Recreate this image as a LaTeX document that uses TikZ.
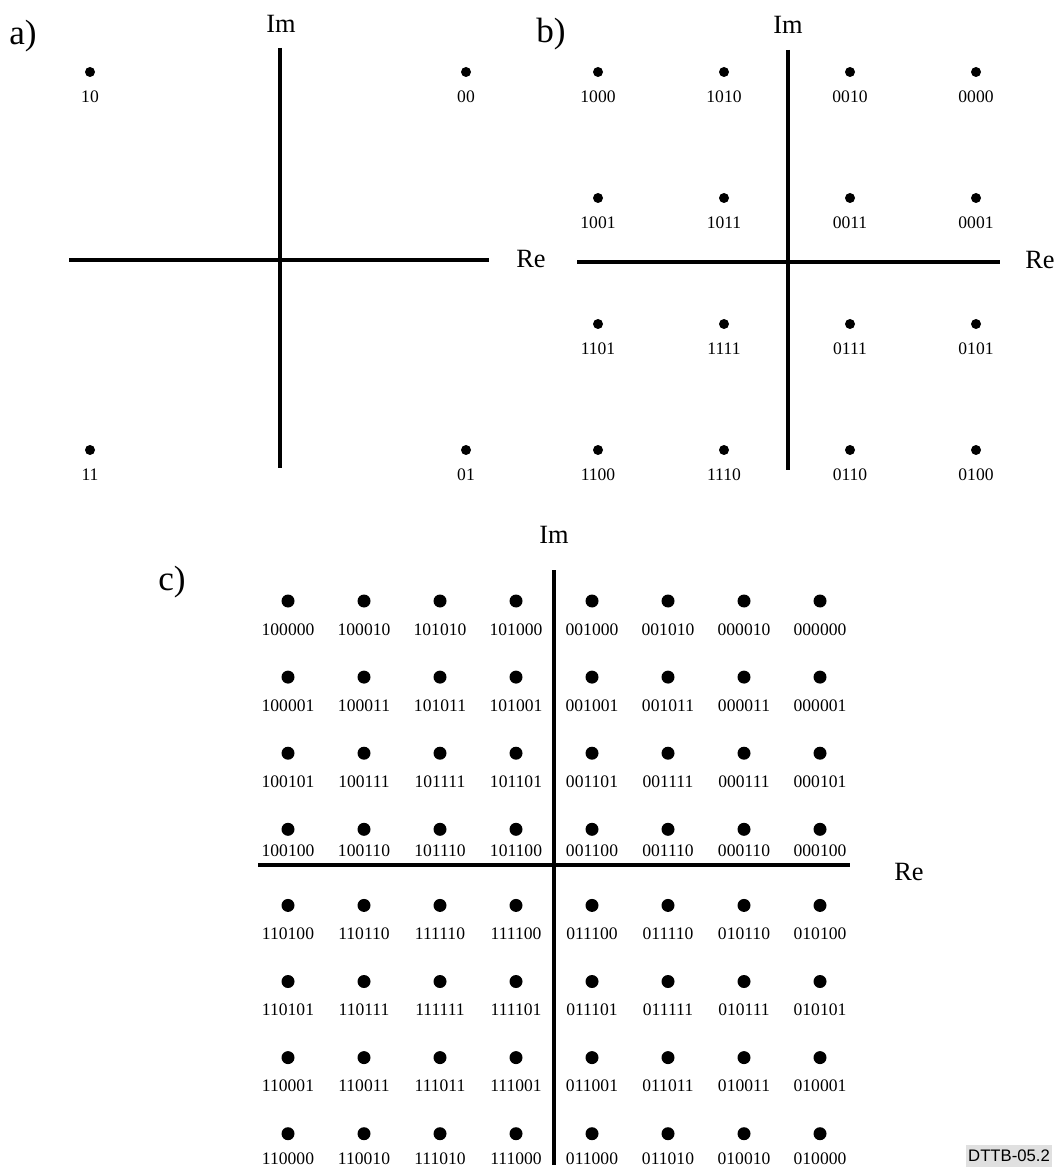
\documentclass[tikz,border=0pt]{standalone}
\usepackage{fontspec}
\setmainfont{Liberation Serif}
\newfontfamily\tagfont{Liberation Sans}
\usetikzlibrary{positioning}

\begin{document}
\begin{tikzpicture}[
  x=0.02cm, y=-0.02cm,
  axis/.style={line width=1.9pt},
  pt/.style={circle, fill=black, inner sep=0pt, minimum size=2mm},
  bigpt/.style={pt, minimum size=2.6mm},
  bits/.style={font=\fontsize{10}{12}\selectfont, inner sep=0pt},
  axlbl/.style={font=\fontsize{15}{17}\selectfont, inner sep=0pt},
  panel/.style={font=\fontsize{20}{22}\selectfont, inner sep=0pt},
  tag/.style={font=\tagfont\fontsize{9.5}{11}\selectfont, fill=black!12,
              inner xsep=1pt, inner ysep=0pt, minimum height=4.4mm}]
\useasboundingbox (0,0) rectangle (1056,1168);
% ---- a) QPSK ----
\coordinate (a-n) at (280,48);
\coordinate (a-s) at (280,468);
\coordinate (a-w) at (69,260);
\coordinate (a-e) at (489,260);
\draw[axis] (a-n) -- (a-s);
\draw[axis] (a-w) -- (a-e);
\node[panel] (a-tag) at (23,36) {a)};
\node[axlbl] (a-im) at (281,24) {Im};
\node[axlbl] (a-re) at (531,259) {Re};
\foreach \b/\px/\py in {10/90/72, 00/466/72, 11/90/450, 01/466/450} {
  \node[pt] (a-\b) at (\px,\py) {};
  \node[bits, below=2.7mm of a-\b] {\b};
}
% ---- b) 16-QAM ----
\coordinate (b-n) at (788,50);
\coordinate (b-s) at (788,470);
\coordinate (b-w) at (577,262);
\coordinate (b-e) at (1000,262);
\draw[axis] (b-n) -- (b-s);
\draw[axis] (b-w) -- (b-e);
\node[panel] (b-tag) at (551,34) {b)};
\node[axlbl] (b-im) at (788,25) {Im};
\node[axlbl] (b-re) at (1040,260) {Re};
\foreach \row [count=\j] in {{1000,1010,0010,0000},{1001,1011,0011,0001},
                             {1101,1111,0111,0101},{1100,1110,0110,0100}} {
  \foreach \b [count=\i] in \row {
    \node[pt] (b-\i-\j) at ({598+126*(\i-1)},{72+126*(\j-1)}) {};
    \node[bits, below=2.7mm of b-\i-\j] {\b};
  }
}
% ---- c) 64-QAM ----
\coordinate (c-n) at (554,570);
\coordinate (c-s) at (554,1165);
\coordinate (c-w) at (258,865);
\coordinate (c-e) at (850,865);
\draw[axis] (c-n) -- (c-s);
\draw[axis] (c-w) -- (c-e);
\node[panel] (c-tag) at (172,582) {c)};
\node[axlbl] (c-im) at (554,535) {Im};
\node[axlbl] (c-re) at (909,872) {Re};
\foreach \row [count=\j] in {
    {100000,100010,101010,101000,001000,001010,000010,000000},
    {100001,100011,101011,101001,001001,001011,000011,000001},
    {100101,100111,101111,101101,001101,001111,000111,000101},
    {100100,100110,101110,101100,001100,001110,000110,000100},
    {110100,110110,111110,111100,011100,011110,010110,010100},
    {110101,110111,111111,111101,011101,011111,010111,010101},
    {110001,110011,111011,111001,011001,011011,010011,010001},
    {110000,110010,111010,111000,011000,011010,010010,010000}} {
  % rows next to the Re axis and the bottom edge sit tighter
  \pgfmathsetmacro{\gap}{\j==4 ? 1.7 : (\j==8 ? 2.3 : 3.1)}
  \foreach \b [count=\i] in \row {
    \node[bigpt] (c-\i-\j) at ({288+76*(\i-1)},{601+76.1*(\j-1)}) {};
    \node[bits, below=\gap mm of c-\i-\j] {\b};
  }
}
\node[tag] (dttb) at (1009,1156) {DTTB-05.2};
\end{tikzpicture}
\end{document}
